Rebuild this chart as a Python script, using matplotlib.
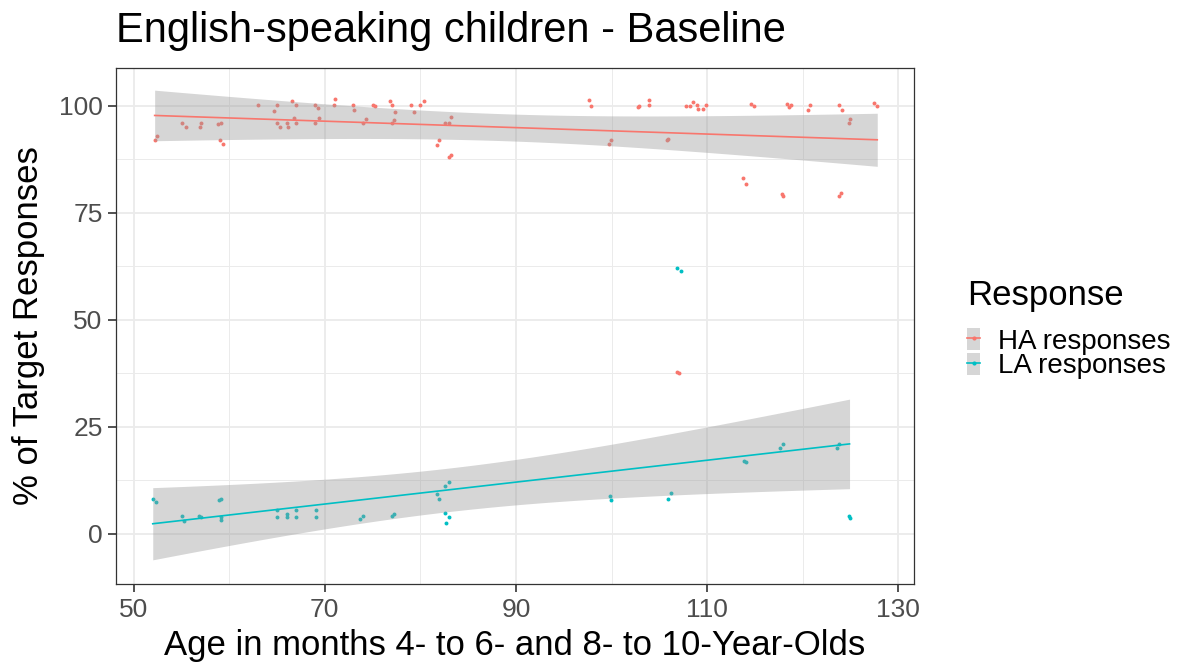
import numpy as np
import matplotlib
matplotlib.use("Agg")
import matplotlib.pyplot as plt
from matplotlib.patches import Patch
from matplotlib.lines import Line2D
from matplotlib.legend_handler import HandlerTuple

plt.rcParams['font.family'] = ['Liberation Sans', 'DejaVu Sans']

# ------------------------------------------------------------------
# Data (read off the reference chart); each child gives two observations
# ------------------------------------------------------------------
ha_age = [52.2, 52.4, 55.1, 55.5, 56.9, 57.1, 58.8, 59.1, 59.0, 59.3,
          63.0, 64.7, 65.0, 65.0, 65.3, 66.0, 66.1, 66.6, 67.0, 66.8,
          67.0, 69.0, 69.3, 69.0, 69.4, 71.1, 71.0, 73.0, 73.1, 74.0,
          74.3, 75.0, 75.3, 76.8, 77.0, 77.3, 77.0, 77.2, 79.0, 79.3,
          80.0, 80.4, 81.7, 82.0, 82.6, 83.0, 83.2, 83.0, 83.2, 97.6,
          97.9, 99.7, 99.9, 102.8, 102.9, 103.9, 103.9, 105.8, 105.9, 106.9,
          107.1, 107.8, 108.2, 108.5, 108.9, 109.0, 109.6, 109.9, 113.8, 114.1,
          114.6, 114.9, 117.8, 117.9, 118.4, 118.6, 118.8, 120.6, 120.8, 123.8,
          124.1, 123.8, 124.0, 124.8, 124.9, 127.5, 127.8]
ha_pct = [92.0, 92.8, 96.0, 95.1, 95.1, 96.0, 95.6, 96.0, 92.0, 91.0,
          100.1, 98.8, 100.1, 96.0, 94.9, 96.0, 94.9, 101.1, 100.1, 97.1,
          96.0, 100.1, 99.5, 96.0, 97.1, 101.6, 100.1, 100.1, 98.9, 96.0,
          96.9, 100.1, 99.9, 101.0, 100.1, 98.6, 96.0, 96.6, 100.1, 98.4,
          100.1, 101.0, 90.7, 92.0, 96.0, 96.0, 97.3, 88.0, 88.4, 101.2,
          100.0, 91.0, 92.0, 99.7, 100.0, 101.2, 100.1, 91.9, 92.1, 37.9,
          37.6, 100.0, 100.0, 100.9, 100.1, 99.1, 99.2, 100.1, 83.0, 81.8,
          100.4, 100.0, 79.4, 79.0, 100.4, 99.7, 100.1, 98.9, 100.1, 100.1,
          99.0, 79.0, 79.7, 96.0, 96.9, 100.5, 100.0]

la_age = [52.0, 52.3, 55.1, 55.3, 56.8, 57.1, 58.9, 59.1, 59.1, 59.1,
          65.0, 65.0, 66.0, 66.0, 67.0, 67.0, 69.1, 69.1, 73.7, 74.0,
          77.0, 77.2, 81.7, 82.0, 82.6, 83.0, 82.6, 83.0, 82.7, 99.8,
          99.9, 105.9, 106.2, 106.9, 107.3, 113.9, 114.1, 117.6, 117.9, 123.6,
          123.8, 124.8, 124.9]
la_pct = [8.1, 7.4, 4.1, 3.0, 4.3, 4.0, 7.9, 8.1, 4.0, 3.3,
          5.7, 4.0, 4.6, 4.0, 5.7, 4.0, 5.5, 4.0, 3.4, 4.1,
          4.1, 4.6, 9.3, 8.1, 11.3, 12.1, 5.0, 4.0, 2.6, 8.9,
          8.0, 8.1, 9.6, 62.1, 61.5, 17.1, 16.7, 20.0, 21.1, 20.0,
          21.1, 4.2, 3.7]

groups = ["HA responses", "LA responses"]
colors = ["#F8766D", "#00BFC4"]

x_ticks = [50, 70, 90, 110, 130]
y_ticks = [0, 25, 50, 75, 100]
OBS_PER_CHILD = 2


def t_quantile(df, z=1.959964):
    """Approximate 97.5% Student-t quantile (Cornish-Fisher expansion)."""
    return (z + (z ** 3 + z) / (4 * df)
            + (5 * z ** 5 + 16 * z ** 3 + 3 * z) / (96 * df ** 2))


def lm_fit(x, y, n_grid=80):
    """Linear fit with 95% band; n counted in children, not observations."""
    x = np.asarray(x)
    y = np.asarray(y)
    b, a = np.polyfit(x, y, 1)
    resid = y - (a + b * x)
    n = len(x)
    s = np.sqrt(np.sum(resid ** 2) / (n - 2))
    n_eff = n / OBS_PER_CHILD
    xg = np.linspace(x.min(), x.max(), n_grid)
    se = s * np.sqrt(1 / n_eff + (xg - x.mean()) ** 2
                     / (np.sum((x - x.mean()) ** 2) / OBS_PER_CHILD))
    yg = a + b * xg
    t = t_quantile(n_eff - 2)
    return xg, yg, yg - t * se, yg + t * se


fig = plt.figure(figsize=(11.88, 6.66), dpi=100)
ax = fig.add_axes([0.098, 0.123, 0.671, 0.775])

for (xs, ys), col in zip([(ha_age, ha_pct), (la_age, la_pct)], colors):
    ax.scatter(xs, ys, s=8, color=col, linewidths=0, zorder=3)
for (xs, ys), col in zip([(ha_age, ha_pct), (la_age, la_pct)], colors):
    xg, yg, lo, hi = lm_fit(xs, ys)
    ax.fill_between(xg, lo, hi, color="#999999", alpha=0.4, linewidth=0, zorder=4)
    ax.plot(xg, yg, color=col, linewidth=1.2, zorder=5)

ax.set_xlim(48.2, 131.6)
ax.set_ylim(-11.7, 108.8)
ax.set_xticks(x_ticks)
ax.set_yticks(y_ticks)
ax.set_xticks([60, 80, 100, 120], minor=True)
ax.set_yticks([12.5, 37.5, 62.5, 87.5], minor=True)
ax.grid(which="major", color="#EBEBEB", linewidth=1.3, zorder=0)
ax.grid(which="minor", color="#EBEBEB", linewidth=0.7, zorder=0)
ax.set_axisbelow(True)
ax.tick_params(which="major", length=6, width=1.2, color="#333333",
               labelsize=19, labelcolor="#4D4D4D", pad=4)
ax.tick_params(which="minor", length=0)
for sp in ax.spines.values():
    sp.set_color("#333333")
    sp.set_linewidth(0.9)

ax.set_xlabel("Age in months 4- to 6- and 8- to 10-Year-Olds", fontsize=25, labelpad=5)
ax.set_ylabel("% of Target Responses", fontsize=25, labelpad=10)
ax.set_title("English-speaking children - Baseline", fontsize=30, loc="left",
             x=0.0, pad=19)

# Legend: grey ribbon key with coloured line + point
fig.text(0.814, 1 - 295 / 666, "Response", fontsize=25, ha="left", va="center")
handles = []
for col in colors:
    handles.append((Patch(facecolor="#D6D6D6", edgecolor="none"),
                    Line2D([], [], color=col, linewidth=1.2, marker="o",
                           markersize=3, markeredgewidth=0)))
leg = fig.legend(handles, groups, handler_map={tuple: HandlerTuple(ndivide=1)},
                 loc="upper left", bbox_to_anchor=(0.814, 0.5075), frameon=False,
                 fontsize=20, handlelength=0.48, handleheight=0.85,
                 handletextpad=0.65, labelspacing=-0.07,
                 borderpad=0, borderaxespad=0)

fig.savefig("out.png", dpi=100)
